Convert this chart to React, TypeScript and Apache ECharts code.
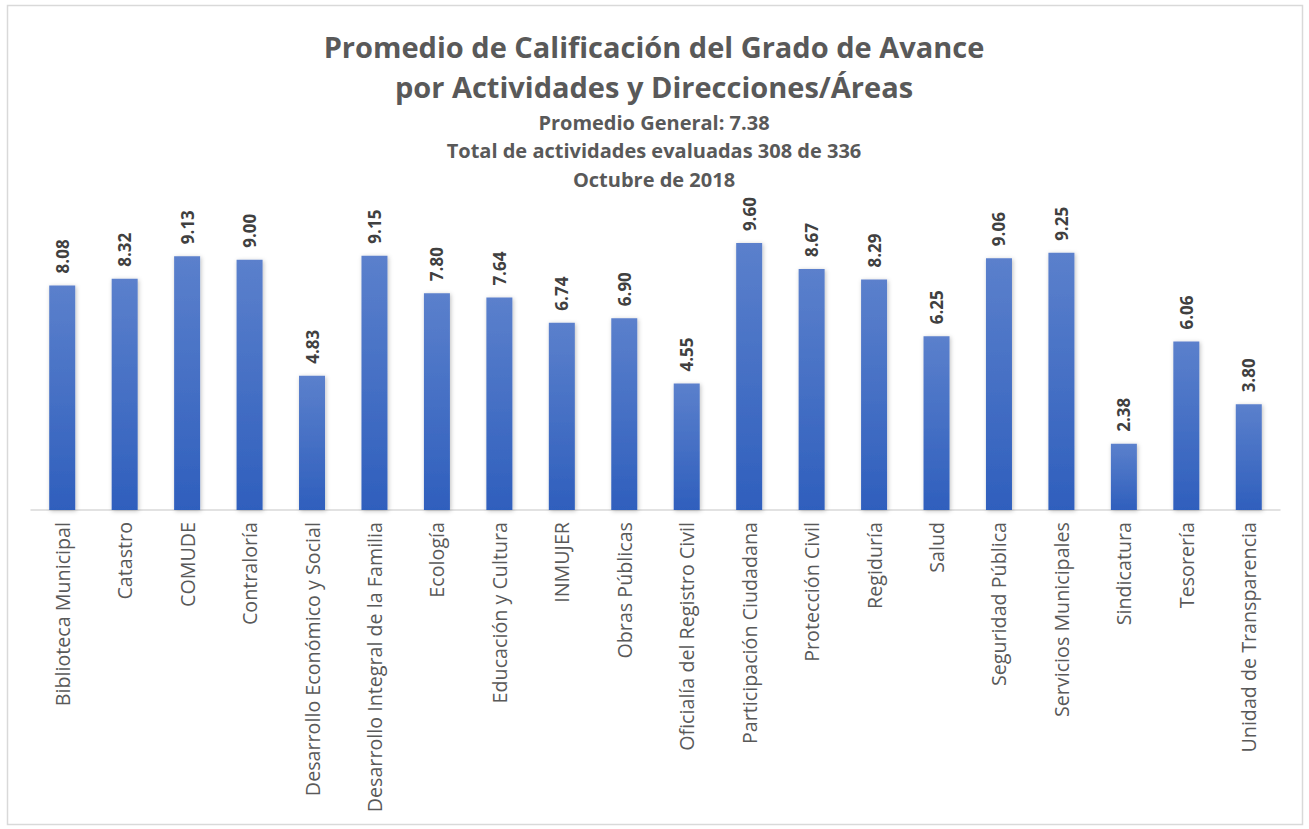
import React, { useEffect, useRef } from "react";
import * as echarts from "echarts";

const categories = [
  "Biblioteca Municipal",
  "Catastro",
  "COMUDE",
  "Contraloría",
  "Desarrollo Económico y Social",
  "Desarrollo Integral de la Familia",
  "Ecología",
  "Educación y Cultura",
  "INMUJER",
  "Obras Públicas",
  "Oficialía del Registro Civil",
  "Participación Ciudadana",
  "Protección Civil",
  "Regiduría",
  "Salud",
  "Seguridad Pública",
  "Servicios Municipales",
  "Sindicatura",
  "Tesorería",
  "Unidad de Transparencia",
];

const values = [8.08, 8.32, 9.13, 9.0, 4.83, 9.15, 7.8, 7.64, 6.74, 6.9, 4.55, 9.6, 8.67, 8.29, 6.25, 9.06, 9.25, 2.38, 6.06, 3.8];

const titleLines = [
  "Promedio de Calificación del Grado de Avance",
  "por Actividades y Direcciones/Áreas",
];
const subtitleLines = [
  "Promedio General: 7.38",
  "Total de actividades evaluadas 308 de 336",
  "Octubre de 2018",
];

const FONT = "'Open Sans', Lato, sans-serif";

export default function App() {
  const ref = useRef<HTMLDivElement>(null);
  useEffect(() => {
    document.body.style.margin = "0";
    if (!ref.current) return;
    const chart = echarts.init(ref.current, null, { renderer: "svg" });
    chart.setOption({
      animation: false,
      backgroundColor: "#ffffff",
      textStyle: { fontFamily: FONT },
      graphic: [
        {
          type: "rect",
          shape: { x: 7.5, y: 5.5, width: 1295, height: 819 },
          style: { fill: "none", stroke: "#d9d9d9", lineWidth: 1.5 },
          silent: true,
        },
        ...titleLines.map((t, i) => ({
          type: "text",
          x: 654,
          y: 46 + i * 40,
          style: {
            text: t,
            fill: "#595959",
            font: `bold 29px ${FONT}`,
            align: "center",
            verticalAlign: "middle",
          },
        })),
        ...subtitleLines.map((t, i) => ({
          type: "text",
          x: 654,
          y: 122 + i * 28.5,
          style: {
            text: t,
            fill: "#595959",
            font: `bold 20px ${FONT}`,
            align: "center",
            verticalAlign: "middle",
          },
        })),
      ],
      grid: { left: 31, right: 29, top: 232, height: 278, containLabel: false },
      xAxis: {
        type: "category",
        data: categories,
        axisLine: { show: true, lineStyle: { color: "#d9d9d9", width: 1.5 } },
        axisTick: { show: false },
        axisLabel: {
          rotate: 90,
          interval: 0,
          margin: 12,
          color: "#595959",
          fontSize: 19.7,
          fontFamily: FONT,
        },
      },
      yAxis: {
        type: "value",
        min: 0,
        max: 10,
        show: false,
        splitLine: { show: false },
      },
      series: [
        {
          type: "bar",
          data: values,
          barWidth: 26,
          itemStyle: {
            color: new echarts.graphic.LinearGradient(0, 0, 0, 1, [
              { offset: 0, color: "#5b80cc" },
              { offset: 1, color: "#2f5fbd" },
            ]),
            shadowColor: "rgba(0,0,0,0.25)",
            shadowBlur: 4,
            shadowOffsetX: 1,
            shadowOffsetY: 1,
          },
          label: {
            show: true,
            position: "top",
            rotate: 90,
            distance: 12,
            align: "left",
            verticalAlign: "middle",
            formatter: (p: any) => p.value.toFixed(2),
            color: "#404040",
            fontWeight: "bold",
            fontSize: 17,
            fontFamily: FONT,
          },
        },
      ],
    });
    return () => chart.dispose();
  }, []);
  return <div ref={ref} style={{ width: 1309, height: 829 }} />;
}
